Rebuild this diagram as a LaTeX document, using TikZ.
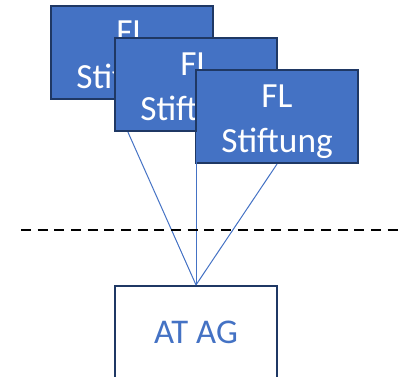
\documentclass[tikz,border=0pt]{standalone}
\usepackage{fontspec}
\setmainfont{Carlito}
\usepackage{tikz}
\definecolor{officeblue}{HTML}{4472C4}
\definecolor{darknavy}{HTML}{1F3864}
\tikzstyle{stiftung} = [rectangle,
minimum width=121.5pt,
minimum height=69.75pt,
inner sep=0pt,
align=center,
font=\fontsize{26.5}{33.5}\selectfont,
text height=58pt,
text=white,
fill=officeblue,
line width=1.6pt,
draw=darknavy]
\tikzstyle{firm} = [rectangle,
minimum width=121.5pt,
minimum height=69.75pt,
inner sep=0pt,
font=\fontsize{26}{31}\selectfont,
text=officeblue,
fill=white,
line width=1.6pt,
draw=darknavy]
\tikzstyle{link} = [officeblue, line width=0.75pt]
\tikzstyle{border} = [black, line width=1.9pt, dash pattern=on 7.5pt off 5pt]

\begin{document}
\begin{tikzpicture}[x=0.75pt, y=-0.75pt]
            \useasboundingbox (0,0) rectangle (403,376);
            \clip (0,0) rectangle (403,376);
            \node (fl1) [stiftung] at (132,52.5) {FL\\Stiftung};
            \node (fl2) [stiftung] at (196,84.5) {FL\\Stiftung};
            \node (fl3) [stiftung] at (277,116.5) {FL\\Stiftung};
            \node (atag) [firm] at (196,332.5) {AT AG};
            \coordinate (cutL) at (21,230);
            \coordinate (cutR) at (403,230);

            \draw [link] ([xshift=10.5pt]fl2.south west) -- (atag.north);
            \draw [link] (fl2.south) -- (atag.north);
            \draw [link] (fl3.south) -- (atag.north);
            \draw [border] (cutL) -- (cutR);
        \end{tikzpicture}
\end{document}
